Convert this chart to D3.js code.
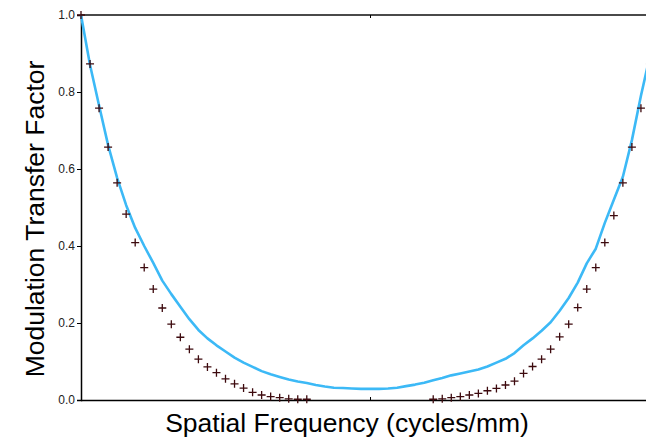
<!DOCTYPE html>
<html>
<head>
<meta charset="utf-8">
<script src="https://cdn.jsdelivr.net/npm/d3@7"></script>
<style>
  html, body { margin: 0; padding: 0; background: #fff; }
  svg { display: block; }
</style>
</head>
<body>
<svg id="chart" width="646" height="444"></svg>
<script>
// Sample index (spatial frequency bins, 0..64; centre bin = 32)
const freqIndex = d3.range(0, 65);

// Modelled MTF (solid blue line)
const mtfModel = [
  1.0, 0.87, 0.765, 0.662, 0.577, 0.506, 0.447, 0.40, 0.356, 0.31,
  0.275, 0.242, 0.21, 0.182, 0.16, 0.142, 0.126, 0.11, 0.097, 0.086,
  0.075, 0.067, 0.060, 0.053, 0.048, 0.044, 0.039, 0.035, 0.032, 0.031,
  0.030, 0.029, 0.029, 0.029, 0.030, 0.032, 0.036, 0.040, 0.045, 0.051,
  0.057, 0.064, 0.069, 0.074, 0.079, 0.087, 0.097, 0.107, 0.122, 0.142,
  0.160, 0.180, 0.202, 0.232, 0.265, 0.305, 0.355, 0.393, 0.46, 0.52,
  0.58, 0.675, 0.79, 0.895, 1.0
];

// Measured MTF (+ markers); null = not plotted
const mtfMeasured = [
  1.0, 0.873, 0.758, 0.657, 0.564, 0.483, 0.409, 0.344, 0.288, 0.239,
  0.197, 0.163, 0.132, 0.106, 0.086, 0.071, 0.055, 0.042, 0.031, 0.02,
  0.013, 0.009, 0.006, 0.003, 0.002, 0.002, null, null, null, null,
  null, null, null, null, null, null, null, null, null, 0.002,
  0.003, 0.006, 0.009, 0.013, 0.017, 0.024, 0.030, 0.039, 0.049, 0.069,
  0.087, 0.106, 0.132, 0.164, 0.197, 0.240, 0.288, 0.344, 0.409, 0.479,
  0.564, 0.657, 0.758, 0.873, 1.0
];

const yTicks = [0, 0.2, 0.4, 0.6, 0.8, 1.0];
const xTicks = [32];
const xTitle = "Spatial Frequency (cycles/mm)";
const yTitle = "Modulation Transfer Factor";

const svg = d3.select("#chart");
const mLeft = 81, mRight = 659, mTop = 15, mBottom = 400;

const x = d3.scaleLinear().domain([0, 64]).range([mLeft, mRight]);
const y = d3.scaleLinear().domain([0, 1]).range([mBottom, mTop]);

// top border
svg.append("line")
  .attr("x1", mLeft).attr("x2", 660)
  .attr("y1", mTop).attr("y2", mTop)
  .attr("stroke", "#4a4a4a").attr("stroke-width", 1.8);

// top tick
const topAxis = d3.axisTop(x).tickValues(xTicks).tickSize(-3).tickFormat("");
svg.append("g").attr("transform", `translate(0,${mTop})`).call(topAxis)
  .call(g => g.select(".domain").remove())
  .call(g => g.selectAll("line").attr("stroke", "#000"));

// y axis
const yAxis = d3.axisLeft(y).tickValues(yTicks).tickSize(4).tickPadding(2)
  .tickFormat(d3.format(".1f"));
const gy = svg.append("g").attr("transform", `translate(${mLeft},0)`).call(yAxis);
gy.select(".domain").attr("stroke", "#000").attr("stroke-width", 1.5);
gy.selectAll("line").attr("stroke", "#000");
gy.selectAll("text").attr("font-family", "Liberation Sans, Arial, sans-serif")
  .attr("font-size", 12).attr("fill", "#222");

// x axis
const xAxis = d3.axisBottom(x).tickValues(xTicks).tickSize(-3).tickFormat("");
const gx = svg.append("g").attr("transform", `translate(0,${mBottom})`).call(xAxis);
gx.select(".domain").attr("stroke", "#000").attr("stroke-width", 1.5)
  .attr("d", `M${mLeft},0.5H660`);
gx.selectAll("line").attr("stroke", "#000");

// model line
const line = d3.line()
  .x((d, i) => x(freqIndex[i]))
  .y(d => y(d))
  .curve(d3.curveLinear);
svg.append("path")
  .datum(mtfModel)
  .attr("fill", "none")
  .attr("stroke", "#3cb9f6")
  .attr("stroke-width", 2.6)
  .attr("stroke-linejoin", "round")
  .attr("d", line);

// markers
const pts = freqIndex.map((f, i) => ({ f, v: mtfMeasured[i] })).filter(d => d.v !== null);
const s = 4;
svg.append("g").selectAll("path").data(pts).join("path")
  .attr("d", d => {
    const cx = x(d.f), cy = y(d.v);
    return `M${cx - s},${cy}H${cx + s}M${cx},${cy - s}V${cy + s}`;
  })
  .attr("stroke", "#3d0a0e")
  .attr("stroke-width", 1.3)
  .attr("fill", "none");

// titles
svg.append("text")
  .attr("x", 347).attr("y", 432)
  .attr("text-anchor", "middle")
  .attr("font-family", "Liberation Sans, Arial, sans-serif")
  .attr("font-size", 26.5).attr("fill", "#000")
  .text(xTitle);

svg.append("text")
  .attr("transform", "translate(43.5,219) rotate(-90)")
  .attr("text-anchor", "middle")
  .attr("font-family", "Liberation Sans, Arial, sans-serif")
  .attr("font-size", 26.5).attr("fill", "#000")
  .text(yTitle);
</script>
</body>
</html>
